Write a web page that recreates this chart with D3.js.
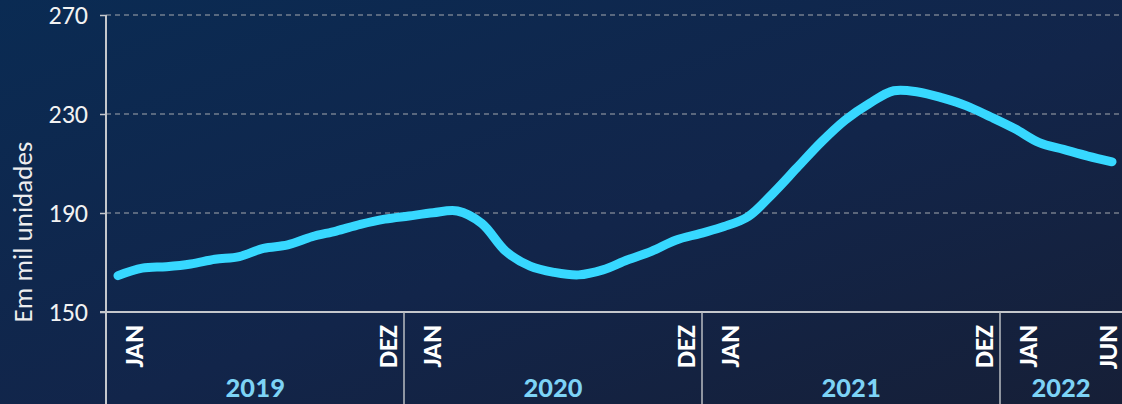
<!DOCTYPE html>
<html>
<head>
<meta charset="utf-8">
<script src="https://cdn.jsdelivr.net/npm/d3@7"></script>
<style>
  html, body { margin: 0; padding: 0; background: #0d2748; }
  svg { display: block; }
</style>
</head>
<body>
<svg width="1122" height="404"></svg>
<script>
//-- data --//
const years = ["2019", "2020", "2021", "2022"];
const monthsPerYear = [12, 12, 12, 6];
const monthNames = ["JAN", "FEV", "MAR", "ABR", "MAI", "JUN", "JUL", "AGO", "SET", "OUT", "NOV", "DEZ"];
// monthly values, jan/2019 .. jun/2022 (em mil unidades)
const values = [
  164.7, 167.7, 168.3, 169.4, 171.3, 172.4, 175.7, 177.1, 180.4, 182.7, 185.4, 187.5,
  188.8, 190.1, 190.8, 185.8, 174.5, 168.5, 166.0, 165.0, 167.0, 171.0, 174.5, 179.0,
  181.7, 184.5, 188.6, 197.8, 208.2, 218.6, 227.6, 234.3, 239.4, 238.9, 236.5, 233.3,
  228.8, 224.0, 218.4, 215.7, 213.0, 210.7
];
const yTicks = [150, 190, 230, 270];
const yTitle = "Em mil unidades";
// which month labels are shown under each year
const shownMonths = [[0, 11], [0, 11], [0, 11], [0, 5]];

const width = 1122, height = 404;
const margin = {top: 15, left: 106, axisY: 312};
const lineLeft = 118, lineRight = 1112;

const svg = d3.select("svg");

//-- background --//
const defs = svg.append("defs");
const grad = defs.append("linearGradient")
    .attr("id", "bg")
    .attr("x1", "0%").attr("y1", "0%")
    .attr("x2", "100%").attr("y2", "100%");
grad.append("stop").attr("offset", "0%").attr("stop-color", "#0a2b53");
grad.append("stop").attr("offset", "55%").attr("stop-color", "#12254a");
grad.append("stop").attr("offset", "100%").attr("stop-color", "#161f37");
svg.append("rect").attr("width", width).attr("height", height).attr("fill", "url(#bg)");

//-- scales --//
const x = d3.scaleLinear()
    .domain([0, values.length - 1])
    .range([lineLeft, lineRight]);

// month blocks for the bottom labels (first 3 full years span axis to last separator)
const xm = d3.scaleLinear()
    .domain([0, 36])
    .range([margin.left, 1000]);

const y = d3.scaleLinear()
    .domain([150, 270])
    .range([margin.axisY, margin.top]);

const font = "Carlito, Lato, 'Open Sans', sans-serif";

//-- grid --//
svg.append("g")
  .selectAll("line")
  .data(yTicks.filter(d => d !== 150))
  .join("line")
    .attr("x1", margin.left)
    .attr("x2", width)
    .attr("y1", d => y(d))
    .attr("y2", d => y(d))
    .attr("stroke", "#a3a7ae")
    .attr("stroke-width", 1.2)
    .attr("stroke-dasharray", "5,4");

//-- y axis --//
const yAxis = svg.append("g")
    .attr("transform", `translate(${margin.left},0)`)
    .call(d3.axisLeft(y).tickValues(yTicks).tickSize(6).tickPadding(12))
    .call(g => g.select(".domain").remove());
yAxis.selectAll(".tick line").attr("stroke", "#c4c7cc").attr("stroke-width", 1.5);
yAxis.selectAll(".tick text")
    .attr("fill", "#f2f2f2")
    .style("font", `26px ${font}`);

svg.append("line")
    .attr("x1", margin.left).attr("x2", margin.left)
    .attr("y1", margin.top).attr("y2", height)
    .attr("stroke", "#c4c7cc").attr("stroke-width", 2);

svg.append("line")
    .attr("x1", margin.left - 6).attr("x2", width)
    .attr("y1", y(150)).attr("y2", y(150))
    .attr("stroke", "#c4c7cc").attr("stroke-width", 2);

svg.append("text")
    .attr("transform", `translate(22,${(y(150) + y(230)) / 2 + 19}) rotate(-90)`)
    .attr("text-anchor", "middle")
    .attr("dominant-baseline", "central")
    .attr("fill", "#eeeeee")
    .style("font", `27px ${font}`)
    .text(yTitle);

//-- year blocks --//
let start = 0;
const blocks = years.map((yr, i) => {
  const b = {year: yr, start, n: monthsPerYear[i], shown: shownMonths[i]};
  start += monthsPerYear[i];
  return b;
});

svg.append("g")
  .selectAll("line")
  .data(blocks.slice(1))
  .join("line")
    .attr("x1", d => xm(d.start)).attr("x2", d => xm(d.start))
    .attr("y1", y(150)).attr("y2", height)
    .attr("stroke", "#b9bcc2").attr("stroke-width", 1.5);

const monthLabels = blocks.flatMap(b => b.shown.map(m => ({m: b.start + m, first: m === 0, name: monthNames[m]})));

svg.append("g")
  .selectAll("text")
  .data(monthLabels)
  .join("text")
    .attr("transform", d => {
      let cx = xm(d.m + 0.5) + (d.first ? 15 : -4);
      cx = Math.min(cx, width - 15);
      return `translate(${cx},${y(150) + 13}) rotate(-90)`;
    })
    .attr("text-anchor", "end")
    .attr("dominant-baseline", "central")
    .attr("fill", "#ffffff")
    .style("font", `bold 27px ${font}`)
    .text(d => d.name);

svg.append("g")
  .selectAll("text")
  .data(blocks)
  .join("text")
    .attr("x", d => (xm(d.start) + Math.min(xm(d.start + 12), width)) / 2)
    .attr("y", 397)
    .attr("text-anchor", "middle")
    .attr("fill", "#7dd3f6")
    .style("font", `bold 29px ${font}`)
    .text(d => d.year);

//-- line --//
const line = d3.line()
    .x((d, i) => x(i))
    .y(d => y(d))
    .curve(d3.curveCatmullRom.alpha(0.5));

svg.append("path")
    .datum(values)
    .attr("fill", "none")
    .attr("stroke", "#37d8ff")
    .attr("stroke-width", 9)
    .attr("stroke-linecap", "round")
    .attr("stroke-linejoin", "round")
    .attr("d", line);
</script>
</body>
</html>
